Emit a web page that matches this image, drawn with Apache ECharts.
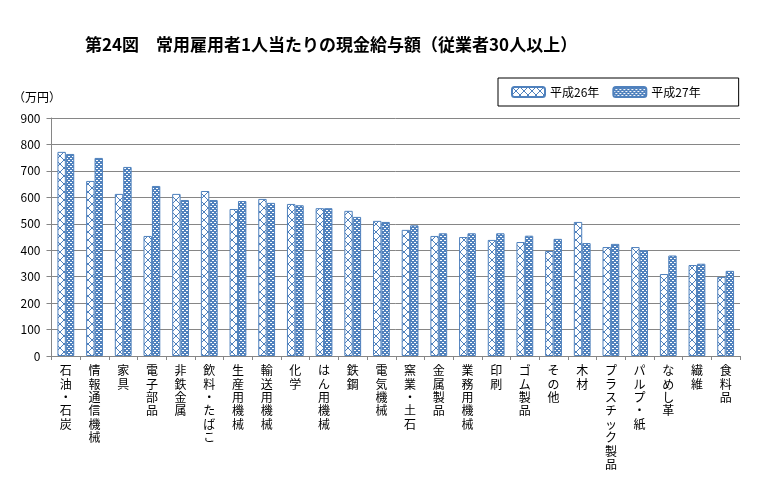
<!DOCTYPE html>
<html>
<head>
<meta charset="utf-8">
<script src="https://cdn.jsdelivr.net/npm/echarts@6/dist/echarts.min.js"></script>
<style>html,body{margin:0;padding:0;background:#fff}#c{width:780px;height:480px}</style>
</head>
<body>
<div id="c"></div>
<script>
const categories = ['石油・石炭','情報通信機械','家具','電子部品','非鉄金属','飲料・たばこ','生産用機械','輸送用機械','化学','はん用機械','鉄鋼','電気機械','窯業・土石','金属製品','業務用機械','印刷','ゴム製品','その他','木材','プラスチック製品','パルプ・紙','なめし革','繊維','食料品'];
const seriesNames = ['平成26年','平成27年'];
const h26 = [772,662,613,454,613,624,556,594,575,559,549,511,477,454,450,439,431,397,507,412,412,310,344,299];
const h27 = [764,749,715,643,590,590,586,579,570,559,526,507,494,464,464,464,455,443,427,424,400,380,349,322];
const yTicks = [0,100,200,300,400,500,600,700,800,900];

const BLUE = '#4F81BD';
function crossPattern(){
  const c = document.createElement('canvas'); c.width = 8; c.height = 8;
  const g = c.getContext('2d');
  g.fillStyle = '#fff'; g.fillRect(0,0,8,8);
  g.fillStyle = BLUE;
  for (let i = 0; i < 8; i++) { g.fillRect(i, i, 1, 1); g.fillRect(7 - i, i, 1, 1); }
  return c;
}
function dotPattern(){
  const c = document.createElement('canvas'); c.width = 4; c.height = 4;
  const g = c.getContext('2d');
  g.fillStyle = BLUE; g.fillRect(0,0,4,4);
  g.fillStyle = '#fff'; g.fillRect(0,0,2,1); g.fillRect(2,2,2,1);
  return c;
}
const p1 = {image: crossPattern(), repeat: 'repeat'};
const p2 = {image: dotPattern(), repeat: 'repeat'};

const FONT = '"Noto Sans CJK JP", sans-serif';
const chart = echarts.init(document.getElementById('c'), null, {renderer: 'canvas'});
chart.setOption({
  animation: false,
  textStyle: {fontFamily: FONT},
  title: {
    text: '第24図　常用雇用者1人当たりの現金給与額（従業者30人以上）',
    left: 80, top: 31,
    textStyle: {fontFamily: FONT, fontSize: 17, fontWeight: 'bold', color: '#000'}
  },
  graphic: [{
    type: 'text', left: 13, top: 91,
    style: {text: '（万円）', font: '12px ' + FONT, fill: '#000'}
  }],
  legend: {
    left: 498, top: 78,
    padding: [8, 38, 8, 13],
    itemWidth: 33, itemHeight: 10, itemGap: 13,
    borderColor: '#000', borderWidth: 1,
    textStyle: {fontFamily: FONT, fontSize: 12, color: '#000'},
    data: seriesNames
  },
  grid: {left: 51.5, right: 40, top: 118, bottom: 124, containLabel: false},
  xAxis: {
    type: 'category', data: categories,
    axisLine: {lineStyle: {color: '#868686'}},
    axisTick: {show: true, length: 4, lineStyle: {color: '#868686'}},
    axisLabel: {
      interval: 0, margin: 8, fontSize: 12, color: '#000', lineHeight: 13.4,
      verticalAlign: 'top',
      formatter: v => v.split('').join('\n')
    }
  },
  yAxis: {
    type: 'value', min: 0, max: 900, interval: 100,
    axisLine: {show: true, lineStyle: {color: '#868686'}},
    axisTick: {show: true, length: 5, lineStyle: {color: '#868686'}},
    splitLine: {lineStyle: {color: '#868686'}},
    axisLabel: {margin: 11, fontSize: 12, color: '#000',
      formatter: v => yTicks.includes(v) ? String(v) : ''}
  },
  series: [
    {name: seriesNames[0], type: 'bar', data: h26, barWidth: 8.4, barGap: '0%',
     itemStyle: {color: p1, borderColor: BLUE, borderWidth: 1}},
    {name: seriesNames[1], type: 'bar', data: h27, barWidth: 8.4, barGap: '0%',
     itemStyle: {color: p2, borderColor: BLUE, borderWidth: 1}}
  ]
});
</script>
</body>
</html>
